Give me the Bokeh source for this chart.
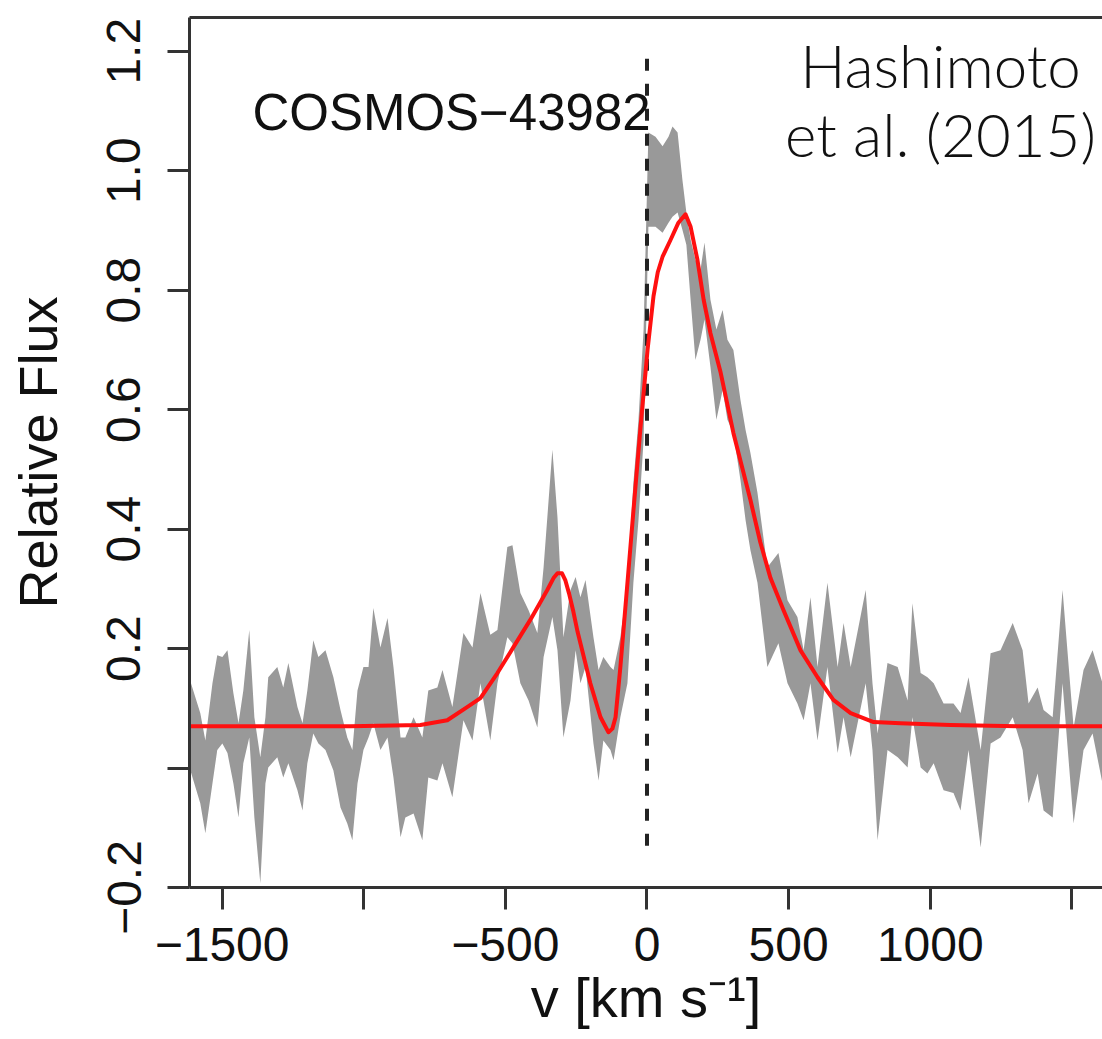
from bokeh.plotting import figure
from bokeh.models import Range1d, FixedTicker, LinearAxis, Label
from bokeh.embed import file_html
from bokeh.resources import INLINE

# ---- data ----
band_v = [-1615, -1577, -1559, -1534, -1517, -1499, -1481, -1460, -1442, -1425,
          -1404, -1386, -1365, -1347, -1337, -1305, -1284, -1266, -1234, -1216,
          -1199, -1178, -1160, -1135, -1107, -1082, -1058, -1040, -1022, -1001,
          -983, -966, -941, -916, -895, -870, -853, -824, -793, -772,
          -740, -722, -687, -648, -616, -588, -553, -528, -493, -475,
          -447, -418, -387, -365, -334, -316, -295, -270, -252, -235,
          -217, -189, -171, -154, -129, -118, -94, -69, -48, -30,
          -12, 5, 30, 55, 76, 90, 108, 125, 139, 154,
          171, 189, 203, 224, 245, 267, 284, 305, 330, 348,
          365, 390, 425, 464, 496, 531, 553, 577, 602, 637,
          673, 694, 719, 772, 796, 814, 849, 885, 920, 937,
          966, 990, 1012, 1047, 1082, 1107, 1135, 1178, 1213, 1248,
          1291, 1326, 1347, 1379, 1400, 1432, 1467, 1506, 1541, 1573,
          1608]
band_hi = [0.150, 0.092, 0.046, 0.142, 0.189, 0.186, 0.197, 0.125, 0.075, 0.130,
           0.231, 0.085, 0.018, 0.085, 0.152, 0.169, 0.135, 0.176, 0.102, 0.075,
           0.130, 0.214, 0.186, 0.197, 0.152, 0.097, 0.051, 0.030, 0.130, 0.169,
           0.169, 0.268, 0.202, 0.251, 0.169, 0.051, 0.051, 0.085, 0.051, 0.130,
           0.135, 0.164, 0.102, 0.226, 0.202, 0.293, 0.223, 0.231, 0.370, 0.373,
           0.293, 0.264, 0.226, 0.336, 0.533, 0.420, 0.219, 0.298, 0.320, 0.286,
           0.315, 0.219, 0.164, 0.186, 0.169, 0.164, 0.219, 0.310, 0.477, 0.583,
           0.734, 1.064, 1.057, 1.041, 1.057, 1.074, 1.064, 0.985, 0.930, 0.885,
           0.851, 0.834, 0.880, 0.784, 0.734, 0.767, 0.717, 0.700, 0.616, 0.566,
           0.528, 0.461, 0.336, 0.360, 0.281, 0.253, 0.197, 0.286, 0.169, 0.310,
           0.169, 0.243, 0.169, 0.298, 0.142, 0.058, 0.176, 0.169, 0.113, 0.276,
           0.159, 0.152, 0.142, 0.108, 0.108, 0.092, 0.152, 0.030, 0.192, 0.197,
           0.243, 0.197, 0.108, 0.135, 0.097, 0.085, 0.298, 0.068, 0.164, 0.197,
           0.142]
band_lo = [0.001, -0.059, -0.109, -0.026, 0.030, 0.041, 0.025, -0.026, -0.083, 0.008,
           0.051, -0.083, -0.193, -0.026, 0.001, 0.018, -0.016, 0.008, -0.037, -0.071,
           0.008, 0.058, 0.041, 0.030, -0.004, -0.066, -0.093, -0.121, -0.026, 0.030,
           0.051, 0.075, 0.030, 0.051, -0.016, -0.116, -0.083, -0.076, -0.121, -0.016,
           -0.021, 0.008, -0.049, 0.080, 0.046, 0.142, 0.046, 0.142, 0.219, 0.209,
           0.142, 0.113, 0.068, 0.186, 0.253, 0.197, 0.051, 0.113, 0.197, 0.142,
           0.169, 0.041, -0.021, 0.046, 0.030, 0.013, 0.085, 0.142, 0.310, 0.415,
           0.549, 0.906, 0.906, 0.896, 0.913, 0.923, 0.930, 0.901, 0.876, 0.784,
           0.683, 0.717, 0.751, 0.672, 0.583, 0.633, 0.583, 0.561, 0.482, 0.415,
           0.365, 0.310, 0.169, 0.209, 0.142, 0.108, 0.080, 0.142, 0.046, 0.169,
           0.025, 0.085, 0.018, 0.142, 0.030, -0.121, 0.030, 0.018, 0.001, 0.085,
           0.001, -0.009, 0.008, -0.037, -0.042, -0.071, 0.030, -0.133, 0.041, 0.051,
           0.085, 0.030, -0.059, -0.009, -0.071, -0.083, 0.142, -0.093, 0.030, 0.058,
           -0.026]

model_v = [-1615, -1224, -1047, -800, -705, -635, -588, -528, -472, -412,
           -352, -330, -316, -300, -288, -275, -260, -245, -235, -200,
           -164, -136, -122, -111, -94, -69, -48, -23, 2, 23,
           38, 55, 83, 111, 136, 154, 178, 200, 224, 260,
           305, 365, 400, 436, 482, 542, 602, 658, 719, 800,
           895, 1071, 1308, 1608]
model_flux = [0.070, 0.070, 0.070, 0.072, 0.080, 0.102, 0.117, 0.159, 0.202, 0.248,
              0.298, 0.318, 0.326, 0.326, 0.314, 0.292, 0.262, 0.228, 0.209, 0.142,
              0.085, 0.060, 0.066, 0.085, 0.169, 0.310, 0.430, 0.570, 0.700, 0.790,
              0.830, 0.856, 0.884, 0.913, 0.927, 0.906, 0.851, 0.784, 0.728, 0.662,
              0.561, 0.449, 0.378, 0.318, 0.264, 0.197, 0.152, 0.114, 0.092, 0.077,
              0.075, 0.072, 0.070, 0.070]

systemic_v = [0, 0]
systemic_y = [-0.13, 1.2]

x_ticks = [-1500, -1000, -500, 0, 500, 1000, 1500]
x_tick_labels = ["\u22121500", "", "\u2212500", "0", "500", "1000", ""]
y_ticks = [-0.2, 0.0, 0.2, 0.4, 0.6, 0.8, 1.0, 1.2]
y_tick_labels = ["\u22120.2", "", "0.2", "0.4", "0.6", "0.8", "1.0", "1.2"]

FONT = "Liberation Sans"
AXC = "#333333"
TXT = "#111111"

p = figure(width=1102, height=1039, output_backend="svg", toolbar_location=None,
           x_range=Range1d(-1615, 1608), y_range=Range1d(-0.2, 1.2565),
           min_border_left=189, min_border_right=0, min_border_top=17,
           min_border_bottom=152)
p.outline_line_color = None
p.xgrid.visible = False
p.ygrid.visible = False
p.background_fill_color = "white"
p.border_fill_color = "white"

# data
p.varea(x=band_v, y1=band_lo, y2=band_hi, fill_color="#999999", fill_alpha=1.0)
p.line(systemic_v, systemic_y, line_color="#222222", line_width=4, line_dash="12 13")
p.line(model_v, model_flux, line_color="#ff1010", line_width=4, line_join="round")

# axes
for ax in (p.xaxis[0], p.yaxis[0]):
    ax.axis_line_color = AXC
    ax.axis_line_width = 3
    ax.major_tick_line_color = AXC
    ax.major_tick_line_width = 3
    ax.major_tick_in = 0
    ax.major_tick_out = 22
    ax.minor_tick_line_color = None
    ax.major_label_text_font = FONT
    ax.major_label_text_font_size = "48px"
    ax.major_label_text_color = TXT
    ax.axis_label_text_font = FONT
    ax.axis_label_text_font_style = "normal"
    ax.axis_label_text_color = TXT

xa = p.xaxis[0]
xa.ticker = FixedTicker(ticks=x_ticks)
xa.major_label_overrides = dict(zip(x_ticks, x_tick_labels))
xa.major_label_standoff = 18
xa.axis_label = "v [km s\u207b\u00b9]"
xa.axis_label_text_font_size = "56px"
xa.axis_label_standoff = 2

ya = p.yaxis[0]
ya.ticker = FixedTicker(ticks=y_ticks)
ya.major_label_overrides = dict(zip(y_ticks, y_tick_labels))
ya.major_label_orientation = "vertical"
ya.major_label_standoff = 27
ya.axis_label = "Relative Flux"
ya.axis_label_text_font_size = "54px"
ya.axis_label_standoff = 37

top = LinearAxis(ticker=FixedTicker(ticks=[]), major_tick_out=0, major_tick_in=0,
                 major_label_standoff=0, axis_line_width=3, axis_line_color=AXC,
                 major_label_text_font_size="0px", minor_tick_line_color=None)
p.add_layout(top, "above")

# annotations
p.add_layout(Label(x=-1393, y=1.097, text="COSMOS\u221243982", text_font=FONT,
                   text_font_size="51px", text_color=TXT,
                   text_align="left", text_baseline="alphabetic"))
p.add_layout(Label(x=1036, y=1.177, text="Hashimoto", text_font="Lato Light, Lato",
                   text_font_size="60px", text_color=TXT,
                   text_align="center", text_baseline="alphabetic"))
p.add_layout(Label(x=1036, y=1.061, text="et al. (2015)", text_font="Lato Light, Lato",
                   text_font_size="60px", text_color=TXT,
                   text_align="center", text_baseline="alphabetic"))

open("out.html", "w").write(file_html(p, INLINE))
